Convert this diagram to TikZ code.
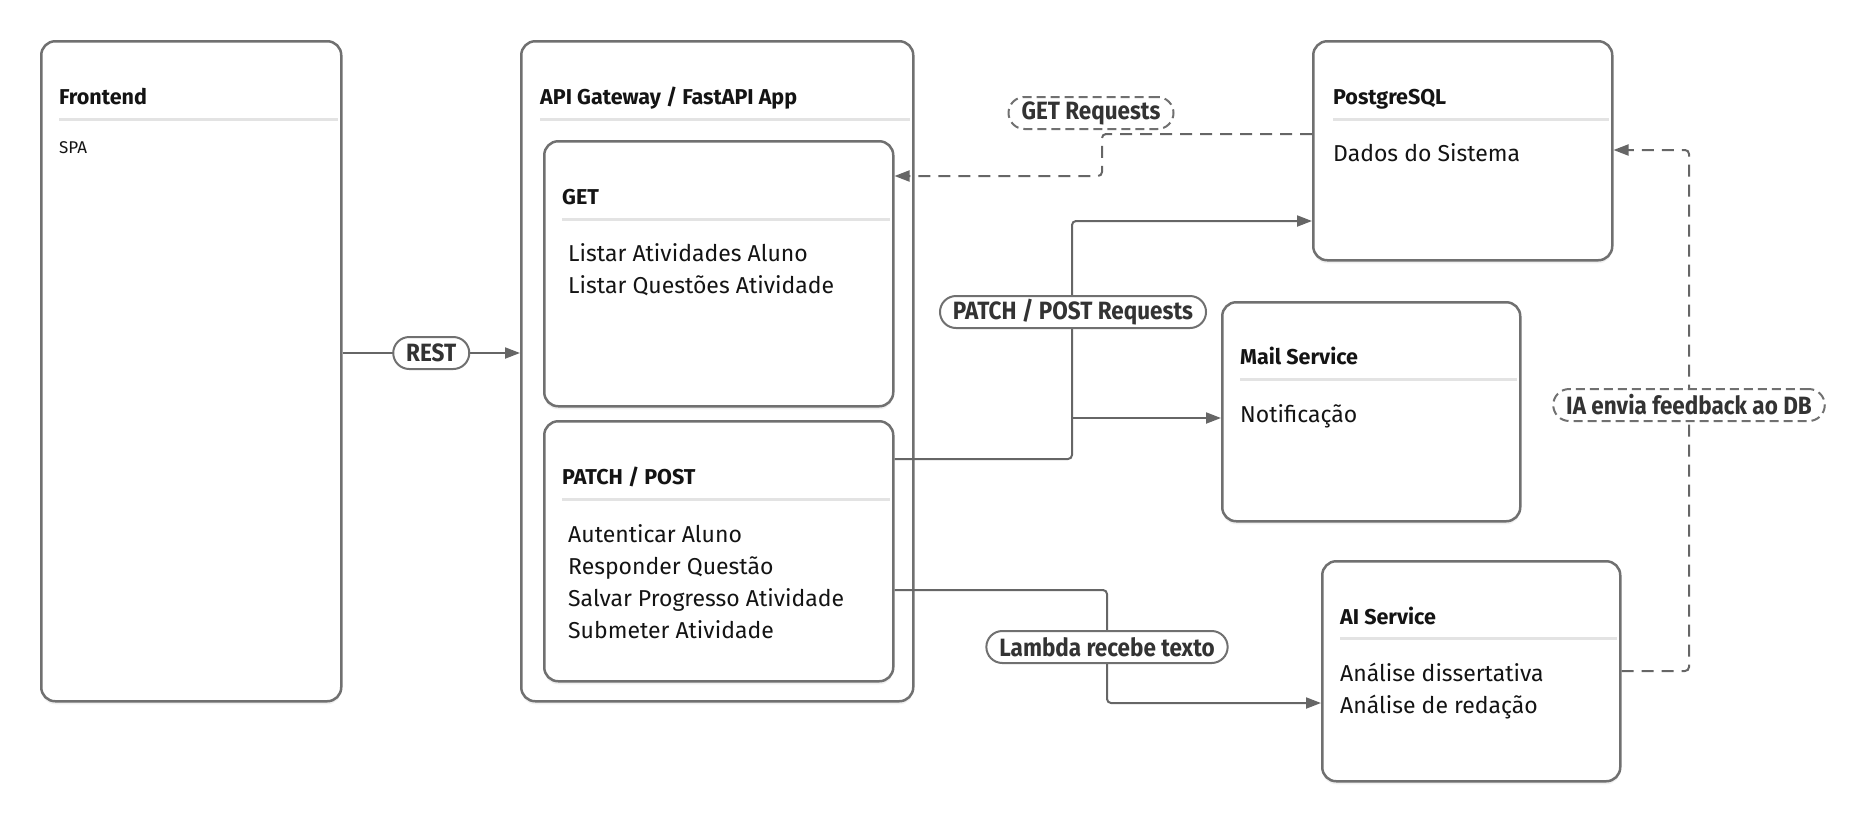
\documentclass[tikz,border=0pt]{standalone}
\usepackage{fontspec}
\setmainfont{Fira Sans}
\newfontfamily\lblfont{Fira Sans}[FakeStretch=0.9]
\usetikzlibrary{arrows.meta,shadows}
\definecolor{bordergray}{HTML}{707070}
\definecolor{conngray}{HTML}{666666}
\definecolor{sepgray}{HTML}{E3E3E3}
\definecolor{txt}{HTML}{141414}
\definecolor{lbltxt}{HTML}{333333}
\tikzset{
  box/.style={draw=bordergray, line width=2.5pt, rounded corners=14pt, fill=white,
    anchor=north west, inner sep=0pt,
    drop shadow={opacity=0.12, shadow xshift=0pt, shadow yshift=-3pt}},
  ttl/.style={anchor=base west, inner sep=0pt, text=txt, font=\fontsize{21.5}{24}\selectfont\bfseries},
  item/.style={anchor=base west, inner sep=0pt, text=txt, font=\fontsize{23}{27}\selectfont},
  small/.style={anchor=base west, inner sep=0pt, text=txt, font=\fontsize{17}{20}\selectfont},
  sepline/.style={draw=sepgray, line width=3pt},
  conn/.style={draw=conngray, line width=2pt, rounded corners=4pt},
  tip/.style={-{Triangle[length=15pt,width=11pt]}},
  dashline/.style={dash pattern=on 12pt off 8pt},
  pill/.style={draw=bordergray, line width=2pt, fill=white, rounded corners=16pt,
    minimum height=32pt, inner xsep=13pt, inner ysep=0pt, text=lbltxt,
    font=\lblfont\bfseries\fontsize{25}{28}\selectfont},
  dpill/.style={pill, dash pattern=on 9pt off 5pt}
}
\begin{document}
\begin{tikzpicture}[x=1pt,y=-1pt]
\useasboundingbox (0,0) rectangle (1864,820);
% boxes
\node[box, minimum width=300, minimum height=660] (fe) at (40,40) {};
\node[box, minimum width=392, minimum height=660] (api) at (520,40) {};
\node[box, minimum width=349, minimum height=265] (get) at (543,140) {};
\node[box, minimum width=349, minimum height=260] (pp) at (543,420) {};
\node[box, minimum width=299, minimum height=219] (pg) at (1312,40) {};
\node[box, minimum width=298, minimum height=219] (mail) at (1221,301) {};
\node[box, minimum width=298, minimum height=220] (ai) at (1321,560) {};
% Frontend
\node[ttl] (fet) at (59,104) {Frontend};
\draw[sepline] (59,119) -- (338,119);
\node[small] (spa) at (59,153) {SPA};
% API
\node[ttl] (apit) at (540,104) {API Gateway / FastAPI App};
\draw[sepline] (540,119) -- (910,119);
% GET
\node[ttl] (gett) at (562,204) {GET};
\draw[sepline] (562,219) -- (890,219);
\node[item] (get1) at (568,261) {Listar Atividades Aluno};
\node[item] (get2) at (568,293) {Listar Questões Atividade};
% PATCH / POST
\node[ttl] (ppt) at (562,484) {PATCH / POST};
\draw[sepline] (562,499) -- (890,499);
\node[item] (pp1) at (568,542) {Autenticar Aluno};
\node[item] (pp2) at (568,574) {Responder Questão};
\node[item] (pp3) at (568,606) {Salvar Progresso Atividade};
\node[item] (pp4) at (568,638) {Submeter Atividade};
% PostgreSQL
\node[ttl] (pgt) at (1333,104) {PostgreSQL};
\draw[sepline] (1333,119) -- (1609,119);
\node[item] (pg1) at (1333,161) {Dados do Sistema};
% Mail
\node[ttl] (mailt) at (1240,364) {Mail Service};
\draw[sepline] (1240,379) -- (1517,379);
\node[item] (mail1) at (1240,422) {Notificação};
% AI
\node[ttl] (ait) at (1340,624) {AI Service};
\draw[sepline] (1340,638) -- (1617,638);
\node[item] (ai1) at (1340,681) {Análise dissertativa};
\node[item] (ai2) at (1340,713) {Análise de redação};
% connectors
\draw[conn, tip] (fe.east |- 0,353) -- node[pill, pos=0.5] (rest) {REST} (api.west |- 0,353);
\draw[conn, dashline, tip] (pg.west |- 0,134) -- (1102,134) -- (1102,176) -- (get.east |- 0,176);
\node[dpill] (getlbl) at (1091,113) {GET Requests};
\draw[conn, tip] (pp.east |- 0,459) -- (1072,459) -- (1072,221) -- (pg.west |- 0,221);
\draw[conn, tip] (1072,418) -- (mail.west |- 0,418);
\node[pill] (pplbl) at (1073,312) {PATCH / POST Requests};
\draw[conn, tip] (pp.east |- 0,590) -- (1107,590) -- (1107,703) -- (ai.west |- 0,703);
\node[pill] (lamlbl) at (1107,647) {Lambda recebe texto};
\draw[conn, dashline, tip] (ai.east |- 0,671) -- (1689,671) -- (1689,150) -- (pg.east |- 0,150);
\node[dpill] (ialbl) at (1689,405) {IA envia feedback ao DB};
\end{tikzpicture}
\end{document}
